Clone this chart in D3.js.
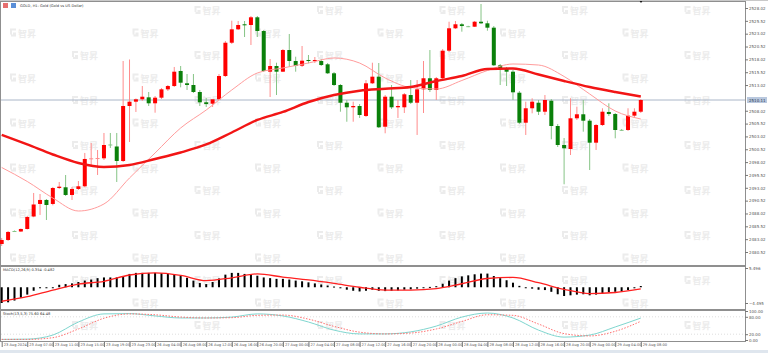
<!DOCTYPE html>
<html>
<head>
<meta charset="utf-8">
<script src="https://cdn.jsdelivr.net/npm/d3@7"></script>
<style>
  body { margin: 0; background: #fff; overflow: hidden; }
  text { font-family: "DejaVu Sans", sans-serif; }
</style>
</head>
<body>
<div id="svgcontainer"></div>
<script>
// GOLD H1 chart, MT style: candles + 2 MAs, MACD and Stochastic panes

const svg_width = 768, svg_height = 353

// ---- data ----
const bar_open = [2482.08,2482.86,2484.61,2484.51,2485.00,2487.43,2489.87,2490.65,2489.87,2492.98,
  2493.12,2491.62,2492.79,2493.31,2498.63,2498.69,2498.76,2501.45,2501.06,2498.24,
  2508.94,2509.78,2510.25,2510.63,2509.47,2510.56,2512.19,2512.83,2515.76,2513.36,
  2513.03,2511.67,2509.66,2509.39,2510.25,2514.78,2521.26,2523.87,2524.85,2524.71,
  2526.21,2523.54,2515.62,2516.73,2515.62,2519.84,2517.70,2516.79,2517.90,2517.70,
  2517.70,2517.06,2515.31,2513.03,2509.58,2508.69,2508.94,2507.00,2513.36,2514.65,
  2504.91,2510.75,2508.69,2508.69,2511.08,2509.58,2512.19,2514.34,2512.06,2514.34,
  2519.71,2524.07,2524.85,2524.48,2524.38,2525.35,2525.04,2524.19,2516.87,2516.20,
  2515.62,2511.53,2505.69,2508.50,2509.58,2507.83,2509.97,2505.05,2501.35,2500.57,
  2506.55,2507.33,2506.08,2501.80,2505.24,2507.78,2507.38,2504.30,2504.27,2507.06,
  2507.83]
const bar_high = [2483.25,2484.61,2484.71,2485.10,2487.53,2492.01,2491.81,2490.84,2493.18,2494.15,
  2495.51,2493.18,2494.34,2499.80,2501.74,2500.38,2503.69,2503.69,2503.69,2517.70,
  2518.00,2510.40,2512.83,2511.67,2510.89,2512.44,2513.03,2516.54,2516.73,2515.17,
  2515.17,2512.06,2510.50,2510.11,2515.17,2521.60,2525.55,2525.49,2525.49,2526.46,
  2526.46,2523.74,2518.09,2517.37,2520.04,2522.96,2518.54,2520.62,2518.87,2518.48,
  2518.09,2517.31,2515.56,2513.22,2510.11,2509.78,2509.33,2514.00,2517.37,2517.31,
  2511.08,2513.03,2510.11,2511.47,2514.00,2514.00,2517.70,2519.84,2514.59,2520.04,
  2525.35,2525.49,2525.10,2524.55,2525.49,2528.80,2525.55,2524.51,2517.12,2516.54,
  2515.95,2511.86,2509.78,2510.44,2510.11,2511.08,2510.30,2505.44,2502.71,2510.44,
  2508.81,2510.11,2506.41,2505.44,2508.50,2509.47,2507.58,2504.45,2508.50,2508.50,
  2510.30]
const bar_low = [2481.69,2482.66,2484.42,2484.42,2484.90,2487.34,2487.73,2486.75,2489.60,2492.79,
  2491.42,2490.65,2492.59,2493.12,2497.26,2495.51,2498.43,2500.77,2494.15,2498.04,
  2501.93,2507.78,2509.92,2508.94,2507.64,2510.30,2511.86,2512.64,2512.58,2512.06,
  2511.47,2508.94,2508.75,2508.75,2510.11,2514.59,2521.01,2523.74,2522.37,2520.82,
  2522.37,2515.56,2510.69,2511.08,2515.56,2516.54,2515.62,2516.54,2517.25,2517.31,
  2516.73,2515.17,2512.83,2507.83,2505.88,2505.88,2506.61,2506.80,2513.22,2504.66,
  2503.63,2508.36,2506.61,2507.58,2509.33,2503.30,2507.58,2511.67,2510.11,2514.00,
  2519.46,2523.93,2523.41,2524.30,2524.32,2524.90,2523.60,2516.73,2513.03,2512.83,
  2510.11,2505.44,2503.30,2507.52,2507.19,2507.19,2502.46,2500.96,2493.70,2499.40,
  2506.22,2503.94,2496.48,2500.38,2505.05,2507.00,2502.65,2504.10,2504.08,2506.61,
  2507.58]
const bar_close = [2482.86,2484.42,2484.51,2485.00,2487.34,2489.77,2490.65,2489.67,2492.98,2493.24,
  2491.62,2492.79,2493.31,2498.63,2498.76,2498.82,2501.35,2501.26,2498.24,2508.94,
  2509.78,2510.25,2510.75,2509.47,2510.56,2512.19,2512.83,2515.62,2513.48,2513.03,
  2511.67,2509.66,2509.33,2510.25,2514.78,2521.26,2523.87,2524.71,2524.65,2526.21,
  2523.54,2515.76,2516.73,2515.62,2519.84,2517.70,2516.73,2517.76,2517.70,2517.90,
  2516.92,2515.31,2513.03,2509.58,2508.69,2508.94,2507.19,2513.36,2514.65,2504.80,
  2510.75,2508.69,2508.94,2511.22,2509.58,2512.19,2514.34,2512.06,2514.34,2519.71,
  2524.07,2524.85,2524.51,2524.40,2525.35,2525.04,2524.19,2516.87,2516.09,2515.62,
  2511.61,2505.69,2508.50,2509.78,2507.83,2510.11,2505.05,2501.35,2500.71,2506.55,
  2507.33,2506.08,2501.80,2505.24,2507.83,2507.38,2504.27,2504.20,2507.06,2507.83,
  2510.11]

// indicator lines sampled every 4 bars (same bars as the time labels)
const line_idx = d3.range(0, 101, 4)
const ma_fast = [2496.97,2494.25,2491.03,2488.50,2489.87,2494.93,2499.80,2504.66,2508.16,2512.06,
  2515.37,2516.34,2517.31,2518.29,2517.31,2514.39,2512.54,2512.25,2513.91,2515.85,
  2517.12,2516.92,2514.69,2511.28,2507.97,2506.41]
const ma_slow = [2503.30,2501.45,2499.50,2497.85,2497.07,2497.46,2498.63,2499.89,2501.45,2503.79,
  2506.22,2507.78,2509.72,2511.08,2511.92,2512.29,2512.64,2513.81,2514.78,2516.15,
  2516.24,2515.07,2513.81,2512.64,2511.67,2510.79]

const macd_hist = [-4.495,-4.3,-3.8,-3.0,-2.1,-1.0,-0.25,-0.2,-0.15,0.7,
  0.9,1.1,1.5,1.9,2.2,2.6,2.8,2.8,2.8,3.1,
  3.8,4.1,4.1,4.1,4.1,4.0,3.8,3.6,3.2,2.7,
  1.9,1.2,0.9,1.5,2.5,3.6,4.1,4.1,3.8,3.5,
  3.3,2.8,2.6,2.4,2.4,2.2,1.9,1.7,1.4,1.1,
  0.8,0.5,0.2,-0.3,-0.7,-1.0,-1.2,-1.0,-0.7,-1.0,
  -1.1,-1.0,-0.9,-0.7,-0.6,-0.4,-0.1,0.1,0.3,1.0,
  1.9,2.6,3.1,3.4,3.7,3.9,3.9,3.2,2.6,2.0,
  1.3,0.4,-0.1,-0.4,-0.7,-0.8,-1.3,-2.0,-2.5,-2.3,
  -2.1,-2.0,-2.3,-2.1,-1.7,-1.4,-1.3,-1.2,-0.8,-0.3,
  0.354]
const macd_signal = [-4.0,-2.7,-0.8,0.9,1.7,3.5,4.1,3.4,1.9,2.7,
  3.8,2.9,2.1,1.1,0.0,-0.8,-0.8,-0.4,1.0,2.5,
  2.8,1.3,-0.6,-1.8,-1.5,-0.482]

const stoch_main = [2,3,17,62,90,91,83,76,76,79,90,83,62,34,21,21,28,48,79,93,76,34,10,17,45,75.6]
const stoch_signal = [2,2,8,38,75,90,87,79,76,77,85,86,72,47,27,21,24,38,64,87,85,55,22,14,30,64.48]

const price_ticks = d3.range(0, 20).map(k => 2480.52 + 2.5 * k)
const last_price = 2510.11
const macd_ticks = [5.496, -4.495]
const stoch_ticks = [100, 80, 20, 0]
const time_labels = ['23 Aug 2024','23 Aug 07:00','23 Aug 11:00','23 Aug 15:00','23 Aug 19:00',
  '23 Aug 23:00','26 Aug 04:00','26 Aug 08:00','26 Aug 12:00','26 Aug 16:00','26 Aug 20:00',
  '27 Aug 00:00','27 Aug 04:00','27 Aug 08:00','27 Aug 12:00','27 Aug 16:00','27 Aug 20:00',
  '28 Aug 00:00','28 Aug 04:00','28 Aug 08:00','28 Aug 12:00','28 Aug 16:00','28 Aug 20:00',
  '29 Aug 00:00','29 Aug 04:00','29 Aug 08:00']

// ---- layout ----
const plot_right = 745
const pane = {
  main: { top: 1, bottom: 265 },
  macd: { top: 266, bottom: 309 },
  stoch: { top: 310, bottom: 341 }
}
const up_color = '#ff0000', down_color = '#0a800a'
const up_wick = '#ff8c8c', down_wick = '#86c486'
const axis_text = '#555'

const svg = d3.select('#svgcontainer')
  .append('svg')
  .attr('width', svg_width)
  .attr('height', svg_height)
  .style('display', 'block')

svg.append('rect').attr('width', svg_width).attr('height', svg_height).attr('fill', '#fff')

// scales
const xScale = d3.scaleLinear().domain([0, 100]).range([1.7, 640.8])
const yScale = d3.scaleLinear().domain([2480.52, 2528.02]).range([252, 8])
const macdScale = d3.scaleLinear().domain([-4.495, 5.496]).range([303, 268])
const stochScale = d3.scaleLinear().domain([0, 100]).range([340, 311])

/**------------------------------------------------------------------------
 *                           watermark pattern
 *------------------------------------------------------------------------**/
// spots taken by real labels, keep the faint logo away from them
const keep_clear = [[0, 0, 90, 10], [0, 266, 60, 274], [0, 310, 60, 318]]
const wm = svg.append('g').attr('fill', '#ececec')
for (let r = 0; r < 15; r++) {
  let y0 = 10 + 22.5 * r
  let x_start = (r % 2 === 0) ? 72 : 10
  for (let x0 = x_start; x0 + 30 < plot_right; x0 += 122.5) {
    if (y0 + 8 > pane.stoch.bottom) continue
    let hit = keep_clear.some(b => x0 < b[2] && x0 + 28 > b[0] && y0 - 5 < b[3] && y0 + 8 > b[1])
    if (hit) continue
    let g = wm.append('g').attr('transform', 'translate(' + x0 + ',' + y0 + ')')
    g.append('path').attr('d', 'M0,-4 h6 v2 h-4 v4 h-2 z M3,0 h3 v4 h-5 v-2 h2 z')
    g.append('text').attr('x', 8).attr('y', 4).attr('font-size', 9)
      .style('font-family', '"Noto Sans CJK SC", sans-serif').style('font-weight', 'bold')
      .text('智昇')
  }
}

// pane frames
for (let k in pane) {
  svg.append('rect')
    .attr('x', 0.5).attr('y', pane[k].top + 0.5)
    .attr('width', plot_right).attr('height', pane[k].bottom - pane[k].top)
    .attr('fill', 'none').attr('stroke', '#8f8f8f').attr('stroke-width', 1)
}

/**------------------------------------------------------------------------
 *                           main pane
 *------------------------------------------------------------------------**/
let main_g = svg.append('g')

// current price line
main_g.append('line')
  .attr('x1', 1).attr('x2', plot_right)
  .attr('y1', yScale(last_price)).attr('y2', yScale(last_price))
  .attr('stroke', '#aab6c8').attr('stroke-width', 1)

let bars = d3.range(bar_open.length)

// wicks
main_g.selectAll('.wick').data(bars).join('line')
  .attr('class', 'wick')
  .attr('x1', i => xScale(i)).attr('x2', i => xScale(i))
  .attr('y1', i => yScale(bar_high[i])).attr('y2', i => yScale(bar_low[i]))
  .attr('stroke', i => bar_close[i] >= bar_open[i] ? up_wick : down_wick)
  .attr('stroke-width', 1)

// bodies
main_g.selectAll('.body').data(bars).join('rect')
  .attr('class', 'body')
  .attr('x', i => xScale(i) - 2)
  .attr('width', 4)
  .attr('y', i => yScale(Math.max(bar_open[i], bar_close[i])))
  .attr('height', i => Math.max(1, Math.abs(yScale(bar_open[i]) - yScale(bar_close[i]))))
  .attr('fill', i => {
    let doji = Math.abs(yScale(bar_open[i]) - yScale(bar_close[i])) < 1
    if (bar_close[i] >= bar_open[i]) return doji ? up_wick : up_color
    return doji ? down_wick : down_color
  })

// moving averages
let ma_line = d3.line()
  .x((d, i) => xScale(line_idx[i]))
  .y(d => yScale(d))
  .curve(d3.curveMonotoneX)

main_g.append('path').datum(ma_fast)
  .attr('d', ma_line).attr('fill', 'none')
  .attr('stroke', '#ff9c9c').attr('stroke-width', 1)

main_g.append('path').datum(ma_slow)
  .attr('d', ma_line).attr('fill', 'none')
  .attr('stroke', '#f21515').attr('stroke-width', 2.4)

// price axis
let price_axis = svg.append('g')
  .attr('transform', 'translate(' + plot_right + ',0)')
  .call(d3.axisRight(yScale).tickValues(price_ticks).tickFormat(d3.format('.2f')).tickSize(3).tickPadding(1))
price_axis.select('.domain').remove()
price_axis.selectAll('line').attr('stroke', '#777')
price_axis.selectAll('text').attr('font-size', 4).attr('fill', axis_text)
  .style('font-family', '"DejaVu Sans", sans-serif')
// the live price tag hides the tick right under it
price_axis.selectAll('.tick').filter(d => Math.abs(yScale(d) - yScale(last_price)) < 4).remove()

// highlighted current price tag
let tag = svg.append('g').attr('transform', 'translate(' + (plot_right + 2) + ',' + yScale(last_price) + ')')
tag.append('rect').attr('x', 0).attr('y', -3).attr('width', 20).attr('height', 6).attr('fill', '#b9c8de')
tag.append('text').attr('x', 2).attr('y', 1.5).attr('font-size', 4).attr('fill', '#2d3a4f')
  .text(d3.format('.2f')(last_price))

// header
svg.append('rect').attr('x', 3).attr('y', 3).attr('width', 5).attr('height', 5).attr('fill', '#e76f6f')
svg.append('rect').attr('x', 11).attr('y', 3).attr('width', 5).attr('height', 5).attr('fill', '#5a8fd8')
svg.append('text').attr('x', 20).attr('y', 7.2).attr('font-size', 3.6).attr('fill', '#333')
  .text('GOLD, H1:  Gold (Gold vs US Dollar)')

// small marker on top edge
svg.append('path').attr('d', 'M639,0 h4 l-2,3 z').attr('fill', '#111')

/**------------------------------------------------------------------------
 *                           MACD pane
 *------------------------------------------------------------------------**/
let macd_g = svg.append('g')
macd_g.selectAll('.hist').data(bars).join('rect')
  .attr('class', 'hist')
  .attr('x', i => xScale(i) - 1)
  .attr('width', 2)
  .attr('y', i => Math.min(macdScale(0), macdScale(macd_hist[i])))
  .attr('height', i => Math.max(1, Math.abs(macdScale(macd_hist[i]) - macdScale(0))))
  .attr('fill', '#000')

macd_g.append('path').datum(macd_signal)
  .attr('d', d3.line().x((d, i) => xScale(line_idx[i])).y(d => macdScale(d)).curve(d3.curveMonotoneX))
  .attr('fill', 'none').attr('stroke', '#ff2020').attr('stroke-width', 1.3)

macd_g.append('text').attr('x', 3).attr('y', 271).attr('font-size', 3.6).attr('fill', '#333')
  .text('MACD(12,26,9) 0.354 -0.482')

let macd_axis = svg.append('g')
  .attr('transform', 'translate(' + plot_right + ',0)')
  .call(d3.axisRight(macdScale).tickValues(macd_ticks).tickFormat(d3.format('.3f')).tickSize(3).tickPadding(1))
macd_axis.select('.domain').remove()
macd_axis.selectAll('line').attr('stroke', '#777')
macd_axis.selectAll('text').attr('font-size', 4).attr('fill', axis_text)

/**------------------------------------------------------------------------
 *                           Stochastic pane
 *------------------------------------------------------------------------**/
let stoch_g = svg.append('g')
let stoch_line = d3.line().x((d, i) => xScale(line_idx[i])).y(d => stochScale(d)).curve(d3.curveMonotoneX)

// level lines
stoch_g.selectAll('.lvl').data([80, 20]).join('line')
  .attr('x1', 1).attr('x2', plot_right)
  .attr('y1', d => stochScale(d)).attr('y2', d => stochScale(d))
  .attr('stroke', '#c8c8c8').attr('stroke-width', 0.6).attr('stroke-dasharray', '1,2')

stoch_g.append('path').datum(stoch_main)
  .attr('d', stoch_line).attr('fill', 'none')
  .attr('stroke', '#7fd6cf').attr('stroke-width', 1)
stoch_g.append('path').datum(stoch_signal)
  .attr('d', stoch_line).attr('fill', 'none')
  .attr('stroke', '#ff7070').attr('stroke-width', 1).attr('stroke-dasharray', '1.5,1.5')

stoch_g.append('text').attr('x', 3).attr('y', 315).attr('font-size', 3.6).attr('fill', '#333')
  .text('Stoch(13,5,3) 75.60 64.48')

let stoch_axis = svg.append('g')
  .attr('transform', 'translate(' + plot_right + ',0)')
  .call(d3.axisRight(stochScale).tickValues(stoch_ticks).tickFormat(d3.format('.2f')).tickSize(3).tickPadding(1))
stoch_axis.select('.domain').remove()
stoch_axis.selectAll('line').attr('stroke', '#777')
stoch_axis.selectAll('text').attr('font-size', 4).attr('fill', axis_text)

/**------------------------------------------------------------------------
 *                           time axis
 *------------------------------------------------------------------------**/
let time_axis = svg.append('g')
  .attr('transform', 'translate(0,' + (pane.stoch.bottom + 1) + ')')
  .call(d3.axisBottom(xScale).tickValues(line_idx).tickFormat((d, i) => time_labels[i]).tickSize(5).tickPadding(0))
time_axis.select('.domain').remove()
time_axis.selectAll('line').attr('stroke', '#777')
time_axis.selectAll('text')
  .attr('font-size', 3.6).attr('fill', axis_text)
  .attr('text-anchor', 'start').attr('x', 1.5).attr('y', 1).attr('dy', '0.9em')

// bottom strip
svg.append('rect').attr('x', 0).attr('y', 350).attr('width', svg_width).attr('height', 3).attr('fill', '#dfe6ee')
svg.append('line').attr('x1', 0).attr('x2', svg_width).attr('y1', 0.5).attr('y2', 0.5).attr('stroke', '#c9c9c9')
</script>
</body>
</html>
